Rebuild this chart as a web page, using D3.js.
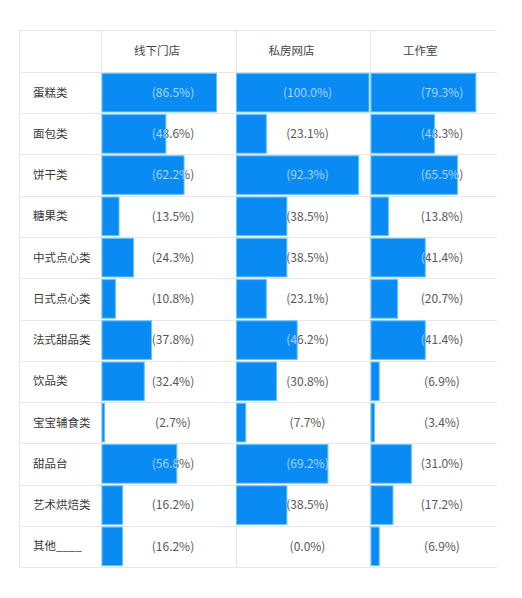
<!DOCTYPE html>
<html>
<head>
<meta charset="utf-8">
<script src="https://cdn.jsdelivr.net/npm/d3@7"></script>
<style>
  body { margin: 0; background: #fff; }
  text { font-family: "Noto Sans CJK SC", "Noto Sans", sans-serif; }
</style>
</head>
<body>
<div id="chart-area"></div>
<script>
// categories (rows) and series (columns)
var categories = ["蛋糕类", "面包类", "饼干类", "糖果类", "中式点心类", "日式点心类",
  "法式甜品类", "饮品类", "宝宝辅食类", "甜品台", "艺术烘焙类", "其他____"];
var series = ["线下门店", "私房网店", "工作室"];

// percentages per series
var offline = [86.5, 48.6, 62.2, 13.5, 24.3, 10.8, 37.8, 32.4, 2.7, 56.8, 16.2, 16.2];
var online = [100.0, 23.1, 92.3, 38.5, 38.5, 23.1, 46.2, 30.8, 7.7, 69.2, 38.5, 0.0];
var studio = [79.3, 48.3, 65.5, 13.8, 41.4, 20.7, 41.4, 6.9, 3.4, 31.0, 17.2, 6.9];
var values = [offline, online, studio];

var W = 522, H = 598;
var tLeft = 19, labelW = 82, tTop = 30, headH = 42, tBottom = 567, tRight = 497;
var colW = 134.5;

var svg = d3.select("#chart-area").append("svg")
  .attr("width", W).attr("height", H);

// scales
var y = d3.scaleBand()
  .domain(categories)
  .range([tTop + headH, tBottom])
  .paddingInner(0.04)
  .paddingOuter(0.02);
var col = d3.scaleBand()
  .domain(series)
  .range([tLeft + labelW, tLeft + labelW + colW * 3]);
var x = d3.scaleLinear().domain([0, 100]).range([0, col.bandwidth() - 1]);

var cells = [];
series.forEach(function(s, i) {
  categories.forEach(function(c, j) {
    cells.push({ s: s, c: c, v: values[i][j], id: "g" + i + "_" + j });
  });
});

// grid lines
var grid = svg.append("g").attr("stroke", "#e6e6e6").attr("stroke-width", 1);
var rowEdges = [tTop, tTop + headH].concat(categories.map(function(c) {
  return y(c) + y.bandwidth() + y.step() * y.paddingInner() / 2;
}));
grid.selectAll("line.h").data(rowEdges).enter().append("line")
  .attr("x1", tLeft).attr("x2", tRight)
  .attr("y1", function(d) { return Math.round(d) + 0.5; })
  .attr("y2", function(d) { return Math.round(d) + 0.5; });
var colEdges = [tLeft].concat(series.map(function(s) { return col(s); }));
grid.selectAll("line.v").data(colEdges).enter().append("line")
  .attr("y1", tTop).attr("y2", tBottom)
  .attr("x1", function(d) { return Math.round(d) + 0.5; })
  .attr("x2", function(d) { return Math.round(d) + 0.5; });

// header
svg.selectAll("text.head").data(series).enter().append("text")
  .attr("class", "head")
  .attr("x", function(d) { return col(d) + 33; })
  .attr("y", tTop + headH / 2)
  .attr("dy", "0.35em")
  .attr("font-size", 11.5)
  .attr("fill", "#444")
  .text(function(d) { return d; });

// row labels
svg.selectAll("text.row").data(categories).enter().append("text")
  .attr("class", "row")
  .attr("x", tLeft + 14)
  .attr("y", function(d) { return y(d) + y.bandwidth() / 2; })
  .attr("dy", "0.35em")
  .attr("font-size", 11.5)
  .attr("fill", "#3a3a3a")
  .text(function(d) { return d; });

// text colour switches at the bar end: light on the bar, gray after it
var defs = svg.append("defs");
var grads = defs.selectAll("linearGradient").data(cells).enter().append("linearGradient")
  .attr("id", function(d) { return d.id; })
  .attr("gradientUnits", "userSpaceOnUse")
  .attr("x1", function(d) { return col(d.s); })
  .attr("x2", function(d) { return col(d.s) + col.bandwidth(); })
  .attr("y1", 0).attr("y2", 0);
grads.each(function(d) {
  var f = (x(d.v) + 0.5) / col.bandwidth();
  var g = d3.select(this);
  g.append("stop").attr("offset", f).attr("stop-color", "#a9d6ff");
  g.append("stop").attr("offset", f).attr("stop-color", "#595959");
});

// bars
svg.append("g").selectAll("rect").data(cells).enter().append("rect")
  .attr("x", function(d) { return col(d.s) + 1; })
  .attr("y", function(d) { return y(d.c) + 0.5; })
  .attr("width", function(d) { return Math.max(0, x(d.v) - 1); })
  .attr("height", y.bandwidth() - 1)
  .attr("fill", "#0a8bf4")
  .attr("stroke", function(d) { return d.v > 0 ? "#62c6f6" : "none"; })
  .attr("stroke-width", 1);

// percentage text
svg.append("g").attr("font-size", 12).attr("text-anchor", "middle")
  .selectAll("text").data(cells).enter().append("text")
  .attr("x", function(d) { return col(d.s) + 72; })
  .attr("y", function(d) { return y(d.c) + y.bandwidth() / 2; })
  .attr("dy", "0.35em")
  .attr("fill", function(d) { return "url(#" + d.id + ")"; })
  .text(function(d) { return "(" + d.v.toFixed(1) + "%)"; });
</script>
</body>
</html>
